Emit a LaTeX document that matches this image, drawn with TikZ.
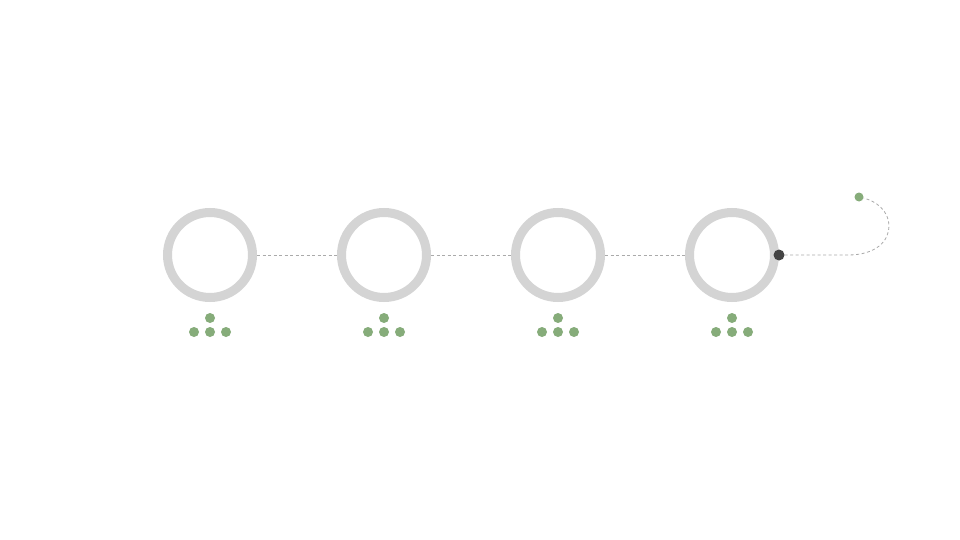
\documentclass[tikz,border=0pt]{standalone}
\usepackage{tikz}
\usepackage{xcolor}
\usetikzlibrary{positioning,calc}
\definecolor{ringgray}{RGB}{212,212,212}
\definecolor{leafgreen}{RGB}{134,172,122}
\definecolor{linkgray}{RGB}{170,170,170}
\definecolor{knobgray}{RGB}{68,68,68}

\begin{document}
\begin{tikzpicture}[x=1pt, y=-1pt,
    ring/.style={draw=ringgray, line width=9pt, circle, minimum size=85pt, inner sep=0pt},
    dot/.style={circle, fill=leafgreen, minimum size=10pt, inner sep=0pt},
    link/.style={draw=linkgray, line width=0.8pt, dash pattern=on 3pt off 2.5pt}]
  \useasboundingbox[fill=white] (0,0) rectangle (960,540);
  % Four rings with a small dot cluster under each
  \foreach \i/\x in {1/210,2/384,3/558,4/732} {
    \node[ring] (ring\i) at (\x,255) {};
    \node[dot] (top\i) at (\x,318) {};
    \node[dot] (left\i) at (\x-16,332) {};
    \node[dot] (mid\i) at (\x,332) {};
    \node[dot] (right\i) at (\x+16,332) {};
  }
  % Dashed links between rings
  \foreach \i/\j in {1/2,2/3,3/4} {
    \draw[link] (ring\i) -- (ring\j);
  }
  % Tail leaving the last ring
  \node[circle, fill=knobgray, minimum size=11pt, inner sep=0pt] (knob) at (779,255) {};
  \node[dot, minimum size=9pt] (tip) at (859,197) {};
  \coordinate (bend) at (848,255);
  \draw[link] (knob) -- (bend) .. controls (876,255) and (889,241) .. (889,226)
    .. controls (889,211) and (876,201) .. (tip);
\end{tikzpicture}
\end{document}
